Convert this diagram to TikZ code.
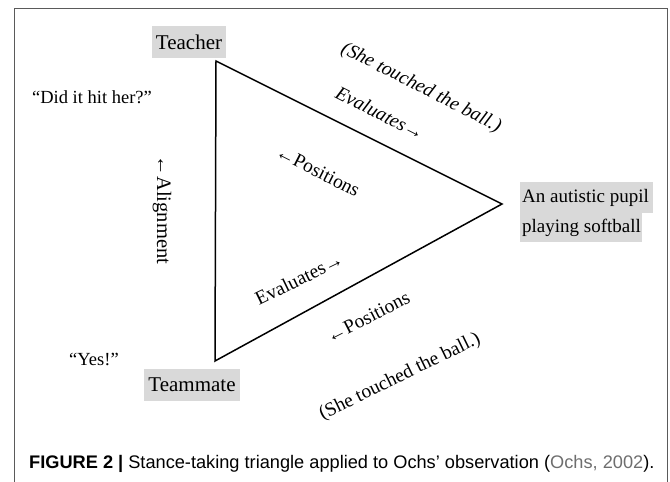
\documentclass[tikz,border=0pt]{standalone}
\usepackage{fontspec}
\setmainfont{Liberation Serif}
\newfontfamily\capfont{Liberation Sans}
\definecolor{boxgray}{RGB}{217,217,217}
\definecolor{citegray}{RGB}{110,110,110}
\definecolor{framegray}{RGB}{90,90,90}
\begin{document}
\begin{tikzpicture}[x=1pt,y=-1pt,
  lbl/.style={font=\fontsize{21}{24}\selectfont, inner sep=0pt},
  plbl/.style={font=\fontsize{19}{22}\selectfont, inner sep=0pt},
  txt/.style={font=\fontsize{19.5}{22}\selectfont, inner sep=0pt},
  itxt/.style={font=\fontsize{19.5}{22}\selectfont\itshape, inner sep=0pt},
  graybox/.style={fill=boxgray, draw=none},
  edge/.style={line width=1.5pt, line join=miter}]
\useasboundingbox (0,0) rectangle (670,482);
% frame
\draw[framegray, line width=1pt] (14,490) -- (14,8) -- (667,8) -- (667,490);
% triangle
\coordinate (T) at (216,61);
\coordinate (R) at (502,204);
\coordinate (B) at (215,361);
\draw[edge] (T) -- (R) -- (B) -- cycle;
% vertex labels
\node[graybox, minimum width=74pt, minimum height=32pt, inner sep=0pt] (teacher) at (189,42) {};
\node[lbl] (teachertxt) at (teacher.center) {Teacher};
\node[graybox, minimum width=96pt, minimum height=32pt, inner sep=0pt] (teammate) at (192,385) {};
\node[lbl] (teammatetxt) at (teammate.center) {Teammate};
\fill[boxgray] (520,182) rectangle (653,213);
\fill[boxgray] (520,213) rectangle (642,242);
\node[plbl, anchor=west] (pupil1) at (522,198) {An autistic pupil};
\node[plbl, anchor=west] (pupil2) at (522,228) {playing softball};
% utterances
\node[font=\fontsize{18.5}{21}\selectfont, inner sep=0pt] (did) at (92,97) {“Did it hit her?”};
\node[font=\fontsize{18.5}{21}\selectfont, inner sep=0pt] (yes) at (94,359) {“Yes!”};
\node[txt, font=\fontsize{20.5}{23}\selectfont, rotate=-90] (align) at (162,210) {←Alignment};
% edge labels
\node[txt, rotate=-27] (pos1) at (318,171) {←Positions};
\node[txt, rotate=26] (eval1) at (299,279) {Evaluates→};
\node[itxt, rotate=-27] (eval2) at (380,113) {Evaluates→};
\node[itxt, rotate=-27] (she1) at (421,88) {(She touched the ball.)};
\node[txt, rotate=27] (pos2) at (368,317) {←Positions};
\node[txt, rotate=26] (she2) at (400,377) {(She touched the ball.)};
% caption
\node[anchor=base west, inner sep=0pt, font=\capfont\fontsize{18.2}{21}\selectfont] (cap) at (29,468)
  {\textbf{FIGURE 2 |} Stance-taking triangle applied to Ochs’ observation (\textcolor{citegray}{Ochs, 2002}).};
\end{tikzpicture}
\end{document}
